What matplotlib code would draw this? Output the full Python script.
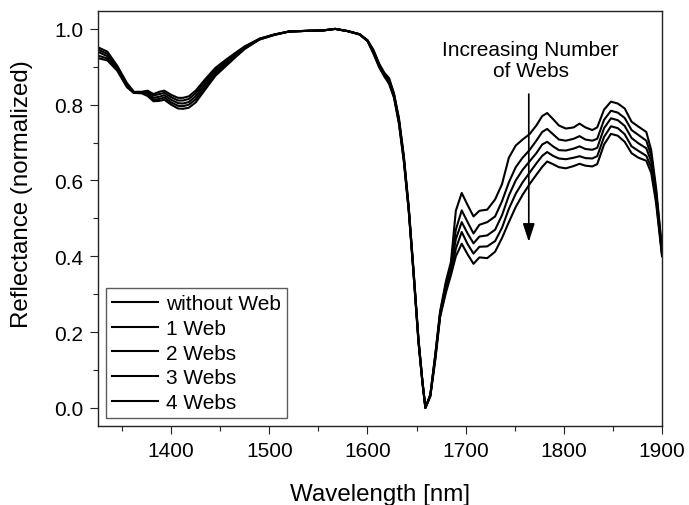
import matplotlib
matplotlib.use("Agg")
import matplotlib.pyplot as plt

plt.rcParams['font.family'] = ['Liberation Sans', 'DejaVu Sans']

wavelength = [1325, 1335, 1345, 1355, 1362, 1370, 1376, 1382, 1388, 1393, 1400, 1407, 1412, 1418,
              1425, 1435, 1445, 1455, 1465, 1475, 1490, 1505, 1520, 1540, 1555, 1567, 1580, 1592,
              1600, 1606, 1612, 1617, 1622, 1627, 1632, 1637, 1642, 1647, 1652, 1656, 1659, 1664,
              1669, 1674, 1680, 1685, 1690, 1696,
              1702, 1708, 1714, 1722, 1730, 1737, 1744, 1751, 1758, 1765, 1772, 1778, 1783, 1789,
              1795, 1802, 1810, 1816, 1822, 1829, 1834, 1841, 1848, 1855, 1862, 1869, 1876, 1884,
              1889, 1894, 1900]

without_web = [0.952, 0.940, 0.903, 0.857, 0.834, 0.834, 0.837, 0.828, 0.834, 0.837, 0.826, 0.818,
               0.818, 0.822, 0.837, 0.868, 0.897, 0.917, 0.936, 0.954, 0.974, 0.985, 0.993, 0.995,
               0.996, 1.0, 0.994, 0.986, 0.97, 0.945, 0.908, 0.885, 0.87, 0.83, 0.765, 0.665, 0.53,
               0.36, 0.18, 0.07, 0.0, 0.035, 0.14, 0.255, 0.335, 0.385, 0.52, 0.567,
               0.535, 0.505, 0.52, 0.523, 0.55, 0.59, 0.66, 0.692, 0.708, 0.722, 0.745, 0.77, 0.778,
               0.762, 0.745, 0.737, 0.74, 0.75, 0.74, 0.733, 0.74, 0.787, 0.808, 0.803, 0.79, 0.755,
               0.742, 0.728, 0.68, 0.58, 0.42]

one_web = [0.946, 0.934, 0.9, 0.854, 0.833, 0.833, 0.834, 0.824, 0.828, 0.831, 0.82, 0.811, 0.811,
           0.815, 0.83, 0.862, 0.892, 0.913, 0.933, 0.952, 0.974, 0.985, 0.993, 0.995, 0.996, 1.0,
           0.994, 0.986, 0.97, 0.943, 0.905, 0.882, 0.866, 0.827, 0.762, 0.662, 0.528, 0.358,
           0.178, 0.069, 0.0, 0.034, 0.137, 0.251, 0.328, 0.376, 0.47, 0.521,
           0.49, 0.46, 0.483, 0.49, 0.505, 0.545, 0.595, 0.635, 0.66, 0.68, 0.705, 0.728, 0.736,
           0.722, 0.708, 0.705, 0.71, 0.717, 0.708, 0.705, 0.71, 0.76, 0.784, 0.779, 0.765, 0.733,
           0.72, 0.705, 0.665, 0.57, 0.415]

two_webs = [0.94, 0.928, 0.897, 0.851, 0.832, 0.832, 0.83, 0.818, 0.821, 0.825, 0.813, 0.804, 0.803,
            0.807, 0.822, 0.855, 0.886, 0.909, 0.93, 0.95, 0.973, 0.985, 0.993, 0.995, 0.996, 1.0,
            0.994, 0.986, 0.969, 0.94, 0.903, 0.879, 0.862, 0.824, 0.758, 0.658, 0.525, 0.355,
            0.176, 0.068, 0.0, 0.033, 0.133, 0.247, 0.32, 0.367, 0.445, 0.49,
            0.46, 0.434, 0.452, 0.455, 0.47, 0.508, 0.56, 0.6, 0.628, 0.65, 0.672, 0.695, 0.702,
            0.69, 0.68, 0.679, 0.684, 0.69, 0.683, 0.681, 0.686, 0.738, 0.764, 0.759, 0.744, 0.712,
            0.698, 0.685, 0.65, 0.56, 0.41]

three_webs = [0.93, 0.922, 0.893, 0.848, 0.831, 0.831, 0.826, 0.813, 0.815, 0.819, 0.806, 0.797,
              0.796, 0.8, 0.814, 0.848, 0.881, 0.905, 0.927, 0.949, 0.972, 0.984, 0.993, 0.995,
              0.996, 1.0, 0.994, 0.985, 0.968, 0.937, 0.9, 0.877, 0.858, 0.821, 0.754, 0.654, 0.522,
              0.352, 0.173, 0.066, 0.0, 0.031, 0.129, 0.243, 0.312, 0.358, 0.42, 0.464,
              0.432, 0.407, 0.425, 0.426, 0.44, 0.475, 0.525, 0.565, 0.595, 0.62, 0.645, 0.665,
              0.675, 0.665, 0.658, 0.656, 0.66, 0.664, 0.659, 0.658, 0.664, 0.715, 0.743, 0.738,
              0.722, 0.69, 0.678, 0.665, 0.635, 0.55, 0.405]

four_webs = [0.923, 0.917, 0.89, 0.846, 0.831, 0.830, 0.823, 0.809, 0.81, 0.813, 0.80, 0.79, 0.789,
             0.792, 0.806, 0.841, 0.876, 0.90, 0.924, 0.947, 0.972, 0.984, 0.993, 0.995, 0.996, 1.0,
             0.994, 0.985, 0.968, 0.935, 0.898, 0.875, 0.855, 0.818, 0.75, 0.65, 0.52, 0.35, 0.17,
             0.065, 0.0, 0.03, 0.125, 0.24, 0.305, 0.35, 0.40, 0.433,
             0.405, 0.38, 0.397, 0.395, 0.412, 0.448, 0.49, 0.53, 0.562, 0.59, 0.615, 0.636, 0.65,
             0.643, 0.635, 0.632, 0.638, 0.644, 0.639, 0.637, 0.643, 0.695, 0.723, 0.718, 0.702,
             0.672, 0.66, 0.652, 0.62, 0.54, 0.40]

series = [without_web, one_web, two_webs, three_webs, four_webs]
labels = ["without Web", "1 Web", "2 Webs", "3 Webs", "4 Webs"]

fig = plt.figure(figsize=(6.89, 5.06), dpi=100)
ax = fig.add_axes([98 / 689, 1 - 427 / 506, 564 / 689, 415.3 / 506])

for ys, lab in zip(series, labels):
    ax.plot(wavelength, ys, color='black', lw=1.5, label=lab)

ax.set_xlim(1325.5, 1900)
ax.set_ylim(-0.048, 1.048)
ax.set_xticks([1400, 1500, 1600, 1700, 1800, 1900])
ax.set_xticks([1350, 1450, 1550, 1650, 1750, 1850], minor=True)
ax.set_yticks([0.0, 0.2, 0.4, 0.6, 0.8, 1.0])
ax.set_yticks([0.1, 0.3, 0.5, 0.7, 0.9], minor=True)
ax.set_yticklabels(["0.0", "0.2", "0.4", "0.6", "0.8", "1.0"])

ax.tick_params(which='major', direction='out', length=5.5, width=0.8, labelsize=15, pad=5, color='#222222')
ax.tick_params(which='minor', direction='out', length=3.5, width=0.8, color='#222222')
for sp in ax.spines.values():
    sp.set_linewidth(1.0)
    sp.set_color('#222222')

ax.set_xlabel("Wavelength [nm]", fontsize=17.4)
ax.set_ylabel("Reflectance (normalized)", fontsize=17.4)
ax.xaxis.set_label_coords(0.5, -0.137)
ax.yaxis.set_label_coords(-0.115, 0.56)

leg = ax.legend(loc='lower left', bbox_to_anchor=(0.0137, 0.019), borderaxespad=0,
                fontsize=15, frameon=True, fancybox=False, handlelength=2.2,
                handletextpad=0.4, labelspacing=0.27, borderpad=0.3)
leg.get_frame().set_edgecolor('#333333')
leg.get_frame().set_linewidth(1.0)

ax.annotate("", xy=(1764.3, 0.438), xytext=(1764.3, 0.828),
            arrowprops=dict(arrowstyle='-|>,head_length=0.55,head_width=0.18',
                            mutation_scale=20, lw=1.2, color='black', shrinkA=0, shrinkB=0))
ax.text(1766.3, 0.918, "Increasing Number\nof Webs", ha='center', va='center',
        multialignment='center', fontsize=15, linespacing=1.1)

fig.savefig("out.png", dpi=100)
